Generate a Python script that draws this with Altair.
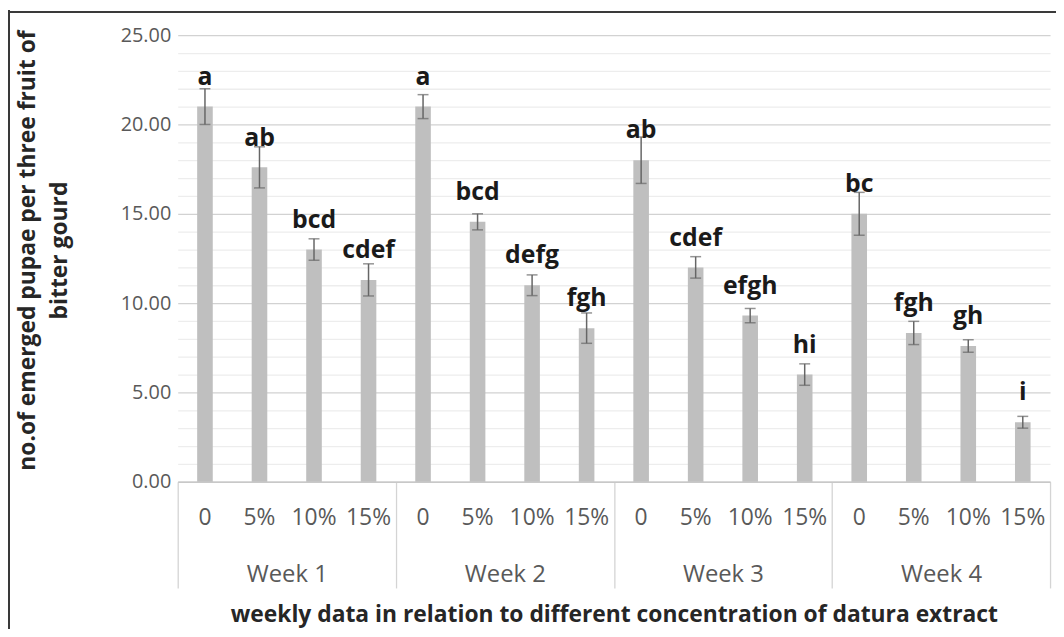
import altair as alt
import pandas as pd

weeks = ["Week 1", "Week 2", "Week 3", "Week 4"]
concs = ["0", "5%", "10%", "15%"]
means = [21.0, 17.6, 13.0, 11.3,
         21.0, 14.55, 11.0, 8.6,
         18.0, 12.0, 9.3, 6.0,
         15.0, 8.33, 7.6, 3.33]
errors = [1.0, 1.15, 0.6, 0.9,
          0.67, 0.45, 0.58, 0.85,
          1.3, 0.6, 0.4, 0.6,
          1.2, 0.65, 0.35, 0.33]
letters = ["a", "ab", "bcd", "cdef",
           "a", "bcd", "defg", "fgh",
           "ab", "cdef", "efgh", "hi",
           "bc", "fgh", "gh", "i"]
y_title_lines = ["no.of emerged pupae per three fruit of", "bitter gourd"]
x_title = "weekly data in relation to different concentration of datura extract"
y_ticks = list(range(0, 26))

rows = []
for i, w in enumerate(weeks):
    for j, c in enumerate(concs):
        k = i * 4 + j
        rows.append({"week": w, "conc": c, "mean": means[k],
                     "lo": means[k] - errors[k], "hi": means[k] + errors[k],
                     "letter": letters[k]})
df = pd.DataFrame(rows)
title_df = pd.DataFrame({"t": y_title_lines, "line": [0, 1]})

W, H = 879, 450
FONT = "Open Sans"

x_enc = alt.X(
    "week:N", sort=weeks,
    scale=alt.Scale(paddingInner=0, paddingOuter=0),
    axis=alt.Axis(
        title=x_title,
        labelAngle=0, labelFontSize=24, labelColor="#595959", labelFont=FONT,
        labelBaseline="middle", labelPadding=-13,
        tickBand="extent", tickSize=107, tickColor="#d4d4d4", tickWidth=1.3,
        domainColor="#c8c8c8", domainWidth=1.3,
        titleFontSize=23, titleFontWeight="bold", titleColor="#262626", titleFont=FONT,
        titleY=134, titleBaseline="middle",
    ),
)
xo_enc = alt.XOffset("conc:N", sort=concs,
                     scale=alt.Scale(paddingInner=0.714, paddingOuter=0.357))

y_scale = alt.Scale(domain=[0, 25], nice=False, zero=True)
y_axis = alt.Axis(
    title=None,
    values=y_ticks,
    labelExpr="datum.value % 5 === 0 ? format(datum.value, '.2f') : ''",
    labelOverlap=False,
    grid=True,
    gridColor={"condition": {"test": "datum.value % 5 === 0", "value": "#d2d2d2"},
               "value": "#ededed"},
    gridWidth=1.3,
    ticks=False, domain=False,
    labelPadding=7, labelFontSize=20, labelColor="#595959", labelFont=FONT,
)

base = alt.Chart(df)

bars = base.mark_bar(color="#bfbfbf").encode(
    x=x_enc, xOffset=xo_enc,
    y=alt.Y("mean:Q", scale=y_scale, axis=y_axis),
)

err = base.mark_rule(color="#666666", strokeWidth=1.5).encode(
    x=x_enc, xOffset=xo_enc, y=alt.Y("lo:Q", scale=y_scale, axis=None), y2="hi:Q",
)
cap_hi = base.mark_tick(color="#666666", thickness=1.5, size=11).encode(
    x=x_enc, xOffset=xo_enc, y=alt.Y("hi:Q", scale=y_scale, axis=None),
)
cap_lo = base.mark_tick(color="#666666", thickness=1.5, size=11).encode(
    x=x_enc, xOffset=xo_enc, y=alt.Y("lo:Q", scale=y_scale, axis=None),
)

letter_text = base.mark_text(
    dy=-22, baseline="alphabetic", align="center",
    fontWeight="bold", fontSize=25, font=FONT, color="#1a1a1a",
).encode(
    x=x_enc, xOffset=xo_enc, y=alt.Y("mean:Q", scale=y_scale, axis=None),
    text="letter:N",
)

conc_text = base.mark_text(
    baseline="middle", align="center", fontSize=23, font=FONT, color="#595959",
).encode(
    x=x_enc, xOffset=xo_enc, y=alt.value(487), text="conc:N",
)

ytitle1 = alt.Chart(title_df[title_df["line"] == 0]).mark_text(
    angle=270, align="center", baseline="middle", fontSize=23,
    fontWeight="bold", font=FONT, color="#262626",
).encode(x=alt.value(-151), y=alt.value(217), text="t:N")
ytitle2 = alt.Chart(title_df[title_df["line"] == 1]).mark_text(
    angle=270, align="center", baseline="middle", fontSize=23,
    fontWeight="bold", font=FONT, color="#262626",
).encode(x=alt.value(-119), y=alt.value(217), text="t:N")

frame_top = base.mark_rule(color="#3a3a3a", strokeWidth=1.5).encode(
    x=alt.value(-171), x2=alt.value(890), y=alt.value(-23),
)
frame_left = base.mark_rule(color="#3a3a3a", strokeWidth=1.5).encode(
    x=alt.value(-170), y=alt.value(-25), y2=alt.value(600),
)

chart = alt.layer(
    bars, err, cap_hi, cap_lo, letter_text, conc_text, ytitle1, ytitle2,
    frame_top, frame_left
).resolve_axis(y="independent").properties(
    width=W, height=H,
    autosize="none",
    padding={"left": 171, "top": 25, "right": 6, "bottom": 146},
    background="white",
).configure_view(stroke=None).configure_text(font=FONT)

chart.save("out.html", embed_options={"renderer": "svg", "actions": False})
